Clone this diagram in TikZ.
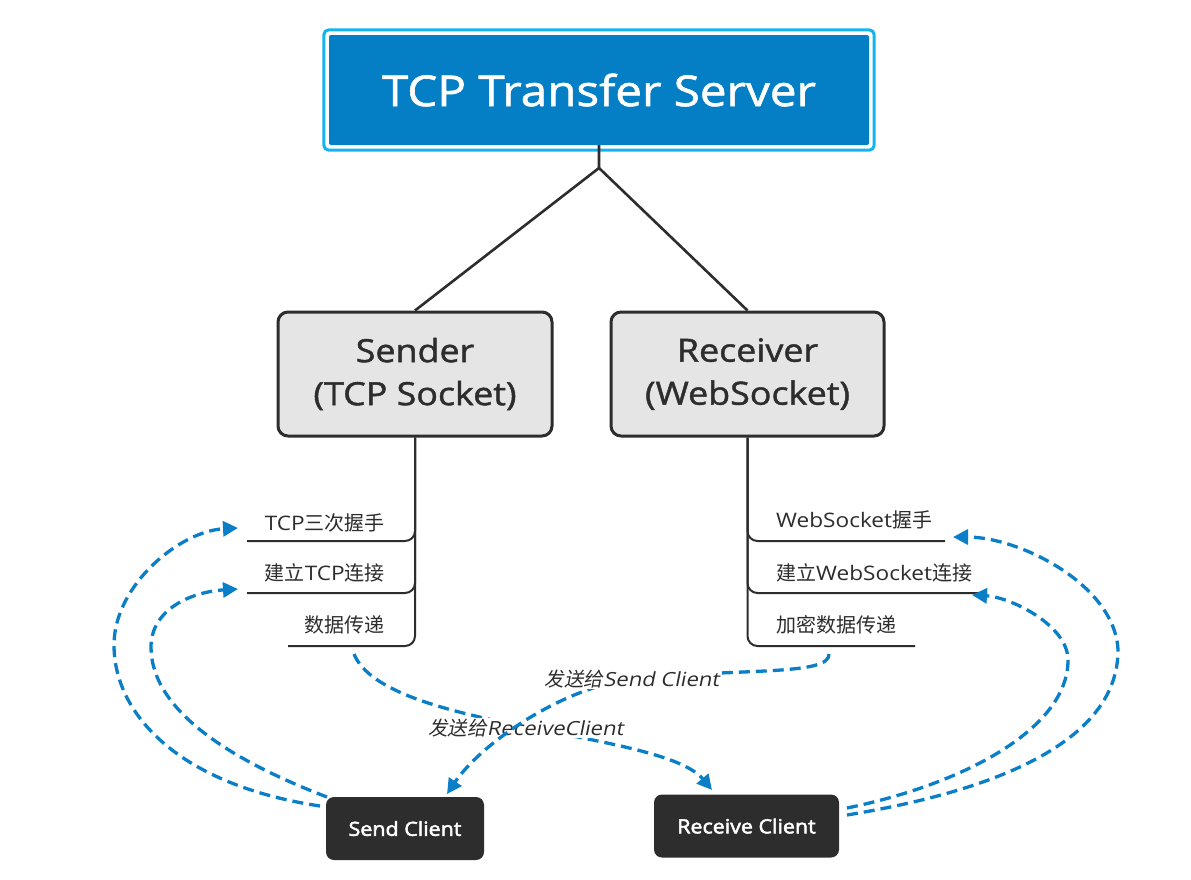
\documentclass[tikz,border=0pt]{standalone}
\usepackage{fontspec}
\setmainfont[FakeStretch=1.13]{Open Sans}
\newfontfamily\medium[FakeStretch=1.12,FakeBold=1.4]{Open Sans}
\newfontfamily\semib[FakeStretch=1.1,FakeBold=2.6]{Open Sans}
\newfontfamily\cjk{Noto Sans CJK SC}
\newfontfamily\cjkit[FakeSlant=0.2]{Noto Sans CJK SC}
\newfontfamily\latit[FakeSlant=0.2,FakeStretch=1.13]{Open Sans}
\usetikzlibrary{arrows.meta}
\definecolor{servblue}{RGB}{4,127,198}
\definecolor{servedge}{RGB}{20,180,240}
\definecolor{dark}{RGB}{45,45,45}
\definecolor{boxgray}{RGB}{229,229,229}
\definecolor{flow}{RGB}{10,127,200}
\definecolor{clientfill}{RGB}{45,45,45}
\begin{document}
\begin{tikzpicture}[x=1pt,y=-1pt,
  tree/.style={draw=dark, line width=2.6pt},
  branch/.style={draw=dark, line width=2pt, rounded corners=10pt},
  midbox/.style={draw=dark, line width=3pt, fill=boxgray, rounded corners=10pt, minimum height=124pt, align=center, font=\fontsize{32}{43}\selectfont\medium, text=dark, inner sep=0pt},
  client/.style={fill=clientfill, rounded corners=8pt, text=white, font=\fontsize{19.5}{22}\selectfont\semib, inner sep=0pt, minimum height=63pt},
  item/.style={font=\fontsize{20}{24}\selectfont, text=dark, inner sep=0pt},
  flowline/.style={draw=flow, line width=3.3pt, dash pattern=on 11pt off 6pt, -{Triangle[length=15pt,width=15pt]}},
  lbl/.style={fill=white, inner sep=1pt, font=\fontsize{19.5}{22}\selectfont, text=dark}
]
\fill[white] (0,0) rectangle (1191,879);
\useasboundingbox (0,0) rectangle (1191,879);

% server
\node (server) [fill=servblue, rounded corners=2pt, minimum width=540pt, minimum height=110pt, inner sep=0pt, text=white, font=\fontsize{42.5}{50}\selectfont\medium] at (599,90) {TCP Transfer Server};
\draw[servedge, line width=3pt, rounded corners=5pt] ([shift={(-5,-5)}]server.north west) rectangle ([shift={(5,5)}]server.south east);

% middle boxes
\node (sender) [midbox, minimum width=274pt] at (415,374) {Sender\\(TCP Socket)};
\node (receiver) [midbox, minimum width=273pt] at (747.5,374) {Receiver\\(WebSocket)};

\coordinate (fork) at (599,168);
\draw[tree] (server.south) -- (fork) -- (sender.north);
\draw[tree] (fork) -- (receiver.north);

% left list
\coordinate (u1) at (247,541);
\coordinate (u2) at (247,593);
\coordinate (u3) at (288,646);
\draw[branch] (sender.south) |- (u1);
\draw[branch] (sender.south) |- (u2);
\draw[branch] (sender.south) |- (u3);
\node[item, anchor=east] (l1) at (385,523) {TCP{\cjk 三次握手}};
\node[item, anchor=east] (l2) at (385,573) {{\cjk 建立}TCP{\cjk 连接}};
\node[item, anchor=east] (l3) at (385,625) {{\cjk 数据传递}};

% right list
\coordinate (w1) at (945,541);
\coordinate (w2) at (987,593);
\coordinate (w3) at (915,646);
\draw[branch] (receiver.south) |- (w1);
\draw[branch] (receiver.south) |- (w2);
\draw[branch] (receiver.south) |- (w3);
\node[item, anchor=west] (r1) at (776,520) {WebSocket{\cjk 握手}};
\node[item, anchor=west] (r2) at (776,573) {{\cjk 建立}WebSocket{\cjk 连接}};
\node[item, anchor=west] (r3) at (776,625) {{\cjk 加密数据传递}};

% clients
\node (sendc) [client, minimum width=158pt] at (405,828.5) {Send Client};
\node (recvc) [client, minimum width=185pt] at (746.5,826) {Receive Client};

% flow coordinates
\coordinate (d1) at (354,654);
\coordinate (rtip) at (712,790);
\coordinate (e1) at (829,654);
\coordinate (stip) at (447,794);
\coordinate (so) at (320,806);
\coordinate (si) at (327,797);
\coordinate (lo) at (238,528);
\coordinate (li) at (238,589);
\coordinate (ro) at (847,815);
\coordinate (ri) at (847,808);
\coordinate (rto) at (953,537);
\coordinate (rti) at (972,595);

% data flows
\draw[flowline] (d1) .. controls (385,730) and (662,730) .. (rtip)
  node[lbl, pos=0.5] (lab1) {{\cjkit 发送给}{\latit ReceiveClient}};
\draw[flowline] (e1) .. controls (830,676) and (740,668) .. (632,679)
  node[lbl] (lab2) {{\cjkit 发送给}{\latit Send Client}}
  .. controls (560,688) and (480,745) .. (stip);

% handshakes
\draw[flowline] (so) .. controls (180,785) and (114,715) .. (114,645) .. controls (114,585) and (180,531) .. (lo);
\draw[flowline] (si) .. controls (230,760) and (151,710) .. (151,647) .. controls (151,610) and (190,592) .. (li);
\draw[flowline] (ro) .. controls (1000,790) and (1118,740) .. (1118,650) .. controls (1115,585) and (1020,537) .. (rto);
\draw[flowline] (ri) .. controls (960,785) and (1068,730) .. (1068,660) .. controls (1068,625) and (1010,597) .. (rti);
\end{tikzpicture}
\end{document}
